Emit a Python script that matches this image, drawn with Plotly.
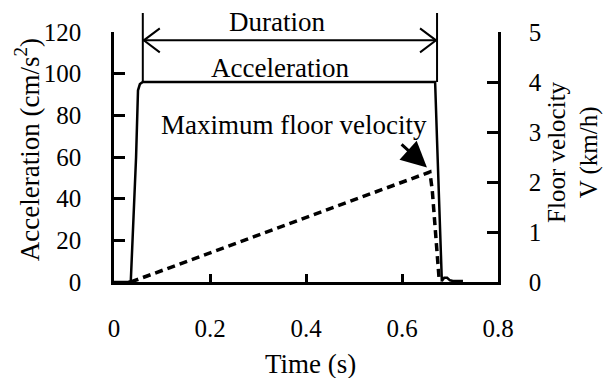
import plotly.graph_objects as go

# ---- data ----
acc_t = [0.0, 0.030, 0.035, 0.046, 0.050, 0.054, 0.060, 0.300, 0.669, 0.673, 0.678, 0.683, 0.688, 0.694, 0.700, 0.706, 0.727]
acc_v = [0.0, 0.0, 0.5, 60.0, 92.0, 95.0, 96.0, 96.0, 96.0, 68.0, 35.0, 0.5, 2.0, 2.0, 0.8, 0.5, 0.5]

vel_t = [0.035, 0.2, 0.4, 0.6, 0.645, 0.658, 0.663, 0.667, 0.671, 0.677, 0.681]
vel_v = [0.0, 0.58, 1.29, 1.98, 2.15, 2.2, 1.84, 1.3, 0.7, 0.1, 0.0]

x_ticks = [0, 0.2, 0.4, 0.6, 0.8]
x_ticktext = ["0", "0.2", "0.4", "0.6", "0.8"]
acc_ticks = [0, 20, 40, 60, 80, 100, 120]
vel_ticks = [0, 1, 2, 3, 4, 5]

duration_start = 0.060
duration_end = 0.673
acc_plateau = 96.0
acc_max = 120.0
duration_arrow_level = 116.0

FONT = "Liberation Serif, Times New Roman, serif"
FS_TICK = 25
FS_TEXT = 27

fig = go.Figure()
fig.add_trace(go.Scatter(x=acc_t, y=acc_v, mode="lines", name="Acceleration",
                         line=dict(color="black", width=2.5), yaxis="y"))
fig.add_trace(go.Scatter(x=vel_t, y=vel_v, mode="lines", name="Floor velocity",
                         line=dict(color="black", width=3.5, dash="8px,5px"), yaxis="y2"))

axis_common = dict(showgrid=False, zeroline=False, showline=True, linecolor="black",
                   linewidth=2.5, ticks="inside", tickcolor="black", tickwidth=2.5,
                   tickfont=dict(family=FONT, size=FS_TICK, color="black"))

# page body has an 8px margin, so the figure is 8px smaller and margins shifted
fig.update_layout(
    width=603, height=370,
    margin=dict(l=106, r=113, t=24, b=96),
    paper_bgcolor="white", plot_bgcolor="white",
    showlegend=False,
    xaxis=dict(range=[0, 0.8], tickvals=x_ticks, ticktext=x_ticktext, ticklen=8,
               ticklabelstandoff=22, **axis_common),
    yaxis=dict(range=[0, acc_max], tickvals=acc_ticks, ticklen=11, ticklabelstandoff=25,
               **axis_common),
    yaxis2=dict(range=[0, 5], tickvals=vel_ticks, ticklen=11, overlaying="y", side="right",
                ticklabelstandoff=23, **axis_common),
)

# Duration vertical markers (from acceleration plateau up above the plot)
for xd in (duration_start, duration_end):
    fig.add_shape(type="line", xref="x", yref="paper", x0=xd, x1=xd,
                  y0=acc_plateau / acc_max, y1=1.076, line=dict(color="black", width=2))

# Duration double arrow: shaft + open chevron heads
lvl = duration_arrow_level / acc_max
fig.add_shape(type="line", xref="x", yref="paper", x0=duration_start, x1=duration_end,
              y0=lvl, y1=lvl, line=dict(color="black", width=2))
fig.add_shape(type="path", xref="x", yref="paper", xsizemode="pixel", ysizemode="pixel",
              xanchor=duration_start, yanchor=lvl, path="M 17,12 L 1,0 L 17,-12",
              line=dict(color="black", width=2))
fig.add_shape(type="path", xref="x", yref="paper", xsizemode="pixel", ysizemode="pixel",
              xanchor=duration_end, yanchor=lvl, path="M -17,12 L -1,0 L -17,-12",
              line=dict(color="black", width=2))

ann_font = dict(family=FONT, size=FS_TEXT, color="black")
center = dict(xanchor="center", yanchor="middle", showarrow=False)

fig.add_annotation(x=0.34, y=1.038, xref="x", yref="paper", text="Duration",
                   font=ann_font, **center)
fig.add_annotation(x=0.346, y=102.5, xref="x", yref="y", text="Acceleration",
                   font=ann_font, **center)
fig.add_annotation(x=0.375, y=75.5, xref="x", yref="y", text="Maximum floor velocity",
                   font=ann_font, **center)
# arrow to the velocity peak
fig.add_annotation(x=0.652, y=55, ax=0.596, ay=66.7, xref="x", yref="y", axref="x", ayref="y",
                   text="", showarrow=True, arrowhead=2, arrowsize=1.7, arrowwidth=3,
                   arrowcolor="black", standoff=0)

# axis titles
fig.add_annotation(x=-0.226, y=0.528, xref="paper", yref="paper",
                   text="Acceleration (cm/s<sup>2</sup>)", textangle=-90,
                   font=ann_font, **center)
fig.add_annotation(x=1.195, y=0.52, xref="paper", yref="paper",
                   text="Floor velocity<br>V (km/h)", textangle=-90,
                   font=dict(family=FONT, size=25, color="black"), **center)
fig.add_annotation(x=0.513, y=-0.326, xref="paper", yref="paper", text="Time (s)",
                   font=ann_font, **center)

fig.write_html("out.html")
